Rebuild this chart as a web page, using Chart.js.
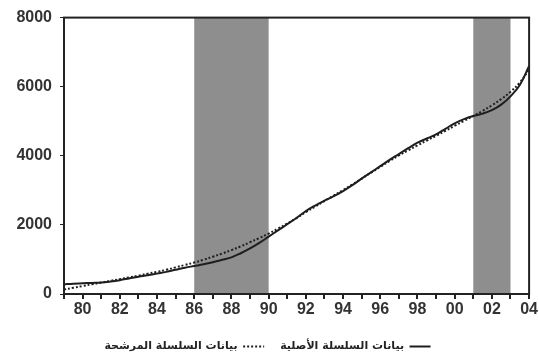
<!DOCTYPE html>
<html>
<head>
<meta charset="utf-8">
<script src="https://cdn.jsdelivr.net/npm/chart.js@4/dist/chart.umd.min.js"></script>
<style>
  html, body { margin: 0; padding: 0; background: #fff; }
  #wrap { width: 539px; height: 362px; position: relative; }
</style>
</head>
<body>
<div id="wrap"><canvas id="c"></canvas></div>
<script>
// Half-year sample points, 1979 to 2004
const years = [
  1979.0, 1979.5, 1980.0, 1980.5, 1981.0, 1981.5, 1982.0, 1982.5, 1983.0, 1983.5,
  1984.0, 1984.5, 1985.0, 1985.5, 1986.0, 1986.5, 1987.0, 1987.5, 1988.0, 1988.5,
  1989.0, 1989.5, 1990.0, 1990.5, 1991.0, 1991.5, 1992.0, 1992.5, 1993.0, 1993.5,
  1994.0, 1994.5, 1995.0, 1995.5, 1996.0, 1996.5, 1997.0, 1997.5, 1998.0, 1998.5,
  1999.0, 1999.5, 2000.0, 2000.5, 2001.0, 2001.5, 2002.0, 2002.5, 2003.0, 2003.5,
  2004.0
];

// Original series
const originalSeries = [
  280, 300, 310, 320, 330, 360, 400, 450, 500, 540,
  590, 640, 700, 760, 810, 860, 920, 990, 1060, 1180,
  1320, 1480, 1660, 1840, 2020, 2200, 2400, 2560, 2700, 2830,
  2980, 3150, 3340, 3520, 3700, 3880, 4050, 4220, 4380, 4500,
  4620, 4780, 4940, 5060, 5150, 5220, 5320, 5480, 5720, 6050,
  6600
];

// Filtered (trend) series
const filteredSeries = [
  130, 180, 230, 280, 330, 380, 430, 480, 530, 590,
  640, 700, 770, 840, 910, 990, 1080, 1170, 1270, 1380,
  1500, 1620, 1750, 1890, 2040, 2200, 2370, 2530, 2690, 2850,
  3010, 3170, 3340, 3510, 3680, 3850, 4010, 4160, 4300, 4440,
  4580, 4720, 4870, 5010, 5150, 5300, 5460, 5640, 5850, 6120,
  6500
];

// Shaded periods [start, end]
const bandStarts = [1986, 2001];
const bandEnds   = [1990, 2003];

const seriesNames = ['بيانات السلسلة الأصلية', 'بيانات السلسلة المرشحة'];
const yTicks = [0, 2000, 4000, 6000, 8000];

const toPoints = vals => vals.map((v, i) => ({ x: years[i], y: v }));

const shadePlugin = {
  id: 'shadeBands',
  beforeDatasetsDraw(chart) {
    const { ctx, chartArea, scales } = chart;
    ctx.save();
    ctx.fillStyle = '#8e8e8e';
    for (let i = 0; i < bandStarts.length; i++) {
      const x0 = scales.x.getPixelForValue(bandStarts[i]);
      const x1 = scales.x.getPixelForValue(bandEnds[i]);
      ctx.fillRect(x0, chartArea.top, x1 - x0, chartArea.bottom - chartArea.top);
    }
    ctx.restore();
  }
};

const framePlugin = {
  id: 'frame',
  afterDatasetsDraw(chart) {
    const { ctx, chartArea } = chart;
    ctx.save();
    ctx.strokeStyle = '#222';
    ctx.lineWidth = 2;
    ctx.strokeRect(chartArea.left, chartArea.top, chartArea.right - chartArea.left, chartArea.bottom - chartArea.top);
    ctx.restore();
  }
};

const tickFont = { family: '"Liberation Sans", Arial, sans-serif', size: 16, weight: 'bold' };

new Chart(document.getElementById('c'), {
  type: 'line',
  data: {
    datasets: [
      {
        label: seriesNames[0],
        data: toPoints(originalSeries),
        borderColor: '#1e1e1e',
        backgroundColor: 'rgba(0,0,0,0)',
        borderWidth: 2,
        pointRadius: 0,
        tension: 0.4
      },
      {
        label: seriesNames[1],
        data: toPoints(filteredSeries),
        borderColor: '#1e1e1e',
        backgroundColor: 'rgba(0,0,0,0)',
        borderWidth: 2,
        borderDash: [2, 2],
        pointRadius: 0,
        tension: 0.4
      }
    ]
  },
  options: {
    responsive: true,
    maintainAspectRatio: false,
    animation: false,
    layout: { padding: { top: -2, right: 4, left: 0, bottom: 0 } },
    scales: {
      x: {
        type: 'linear',
        min: 1979,
        max: 2004,
        grid: { display: true, drawOnChartArea: false, drawTicks: true, tickLength: 5, color: '#222', lineWidth: 2 },
        border: { display: true, color: '#222', width: 2 },
        ticks: {
          stepSize: 1,
          autoSkip: false,
          maxRotation: 0,
          padding: 1,
          color: '#333',
          font: tickFont,
          callback: v => (v % 2 === 0 ? String(v).slice(2) : '')
        },
        afterFit: s => { s.height = 31; }
      },
      y: {
        min: 0,
        max: 8000,
        afterBuildTicks: s => { s.ticks = yTicks.map(v => ({ value: v })); },
        grid: { display: true, drawOnChartArea: false, drawTicks: true, tickLength: 4, color: '#222', lineWidth: 1 },
        border: { display: true, color: '#222', width: 2 },
        ticks: { color: '#333', font: tickFont, padding: 8, callback: v => String(v) },
        afterFit: s => { s.width = 64; }
      }
    },
    plugins: {
      legend: {
        display: true,
        position: 'bottom',
        rtl: true,
        textDirection: 'rtl',
        labels: {
          boxWidth: 21,
          boxHeight: 0,
          padding: 16,
          color: '#222',
          font: { family: '"DejaVu Sans", sans-serif', size: 11, weight: 'bold' }
        }
      },
      tooltip: { enabled: false }
    }
  },
  plugins: [shadePlugin, framePlugin]
});
</script>
</body>
</html>
